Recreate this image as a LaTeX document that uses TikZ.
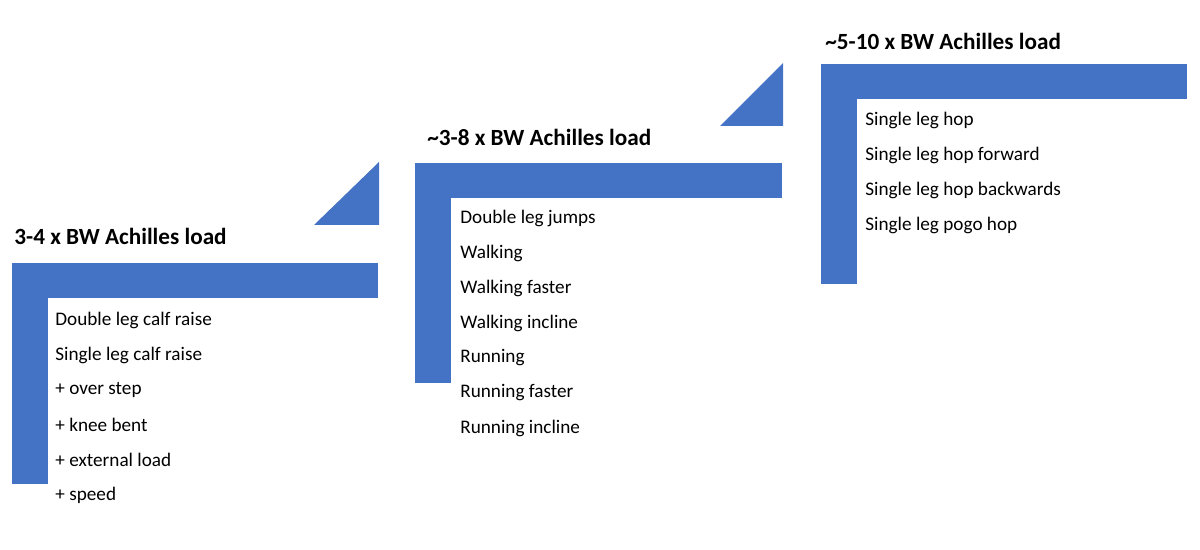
\documentclass[tikz,border=0pt]{standalone}
\usepackage{fontspec}
\setmainfont{Carlito}
\definecolor{stepblue}{HTML}{4472C4}
\begin{document}
\begin{tikzpicture}[x=0.5pt,y=-0.5pt,
  bar/.style={fill=stepblue,draw=none},
  ttl/.style={anchor=base west,inner sep=0pt,font=\fontsize{11.6}{13}\selectfont\bfseries},
  item/.style={anchor=west,inner sep=0pt,font=\fontsize{9.6}{11}\selectfont}]
\useasboundingbox (0,0) rectangle (1200,550);
% step 1
\fill[bar] (12,263) rectangle (378,298);
\fill[bar] (12,263) rectangle (48,484);
\fill[bar] (314,225) -- (379,225) -- (379,162) -- cycle;
\node[ttl] (t1) at (14,245) {3-4 x BW Achilles load};
\foreach \t [count=\i] in {Double leg calf raise,Single leg calf raise,+ over step,+ knee bent,+ external load,+ speed}
  \node[item] (a\i) at (55,285+35*\i) {\t};
% step 2
\fill[bar] (415,163) rectangle (782,198);
\fill[bar] (415,163) rectangle (451,383);
\fill[bar] (720,126) -- (783,126) -- (783,63) -- cycle;
\node[ttl] (t2) at (427,146) {\textasciitilde 3-8 x BW Achilles load};
\foreach \t [count=\i] in {Double leg jumps,Walking,Walking faster,Walking incline,Running,Running faster,Running incline}
  \node[item] (b\i) at (460,183+35*\i) {\t};
% step 3
\fill[bar] (821,64) rectangle (1187,99);
\fill[bar] (821,64) rectangle (857,284);
\node[ttl] (t3) at (825,50) {\textasciitilde 5-10 x BW Achilles load};
\foreach \t [count=\i] in {Single leg hop,Single leg hop forward,Single leg hop backwards,Single leg pogo hop}
  \node[item] (c\i) at (865,85+35*\i) {\t};
\end{tikzpicture}
\end{document}
